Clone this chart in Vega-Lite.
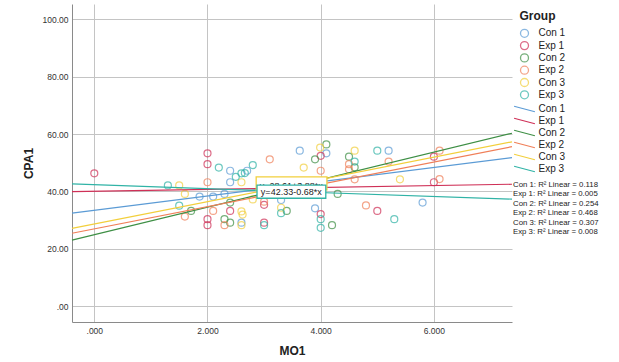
{
  "$schema": "https://vega.github.io/schema/vega-lite/v6.json",
  "width": 440,
  "height": 318,
  "autosize": {"type": "none"},
  "padding": {"left": 72, "top": 4, "right": 107, "bottom": 40},
  "background": "white",
  "config": {
    "view": {"stroke": null},
    "font": "Liberation Sans",
    "axis": {"labelFont": "Liberation Sans", "titleFont": "Liberation Sans"},
    "legend": {"labelFont": "Liberation Sans", "titleFont": "Liberation Sans"}
  },
  "datasets": {
    "points": [
      {"Group": "Con 1", "MO1": 2.4, "CPA1": 47.2},
      {"Group": "Con 1", "MO1": 2.7, "CPA1": 47.2},
      {"Group": "Con 1", "MO1": 3.63, "CPA1": 54.2},
      {"Group": "Con 1", "MO1": 2.4, "CPA1": 43.2},
      {"Group": "Con 1", "MO1": 1.86, "CPA1": 38.2},
      {"Group": "Con 1", "MO1": 2.1, "CPA1": 38.2},
      {"Group": "Con 1", "MO1": 2.3, "CPA1": 39.1},
      {"Group": "Con 1", "MO1": 2.6, "CPA1": 29.1},
      {"Group": "Con 1", "MO1": 3.3, "CPA1": 37.0},
      {"Group": "Con 1", "MO1": 4.1, "CPA1": 53.3},
      {"Group": "Con 1", "MO1": 5.2, "CPA1": 54.2},
      {"Group": "Con 1", "MO1": 3.9, "CPA1": 34.1},
      {"Group": "Con 1", "MO1": 5.8, "CPA1": 36.1},
      {"Group": "Exp 1", "MO1": 0.0, "CPA1": 46.3},
      {"Group": "Exp 1", "MO1": 2.0, "CPA1": 53.3},
      {"Group": "Exp 1", "MO1": 2.0, "CPA1": 49.5},
      {"Group": "Exp 1", "MO1": 2.4, "CPA1": 33.2},
      {"Group": "Exp 1", "MO1": 2.0, "CPA1": 30.3},
      {"Group": "Exp 1", "MO1": 2.0, "CPA1": 28.2},
      {"Group": "Exp 1", "MO1": 3.0, "CPA1": 35.3},
      {"Group": "Exp 1", "MO1": 3.0, "CPA1": 29.1},
      {"Group": "Exp 1", "MO1": 4.0, "CPA1": 52.4},
      {"Group": "Exp 1", "MO1": 4.0, "CPA1": 32.1},
      {"Group": "Exp 1", "MO1": 5.0, "CPA1": 33.2},
      {"Group": "Exp 1", "MO1": 6.0, "CPA1": 52.1},
      {"Group": "Exp 1", "MO1": 6.0, "CPA1": 43.2},
      {"Group": "Con 2", "MO1": 1.71, "CPA1": 33.2},
      {"Group": "Con 2", "MO1": 2.4, "CPA1": 36.1},
      {"Group": "Con 2", "MO1": 2.3, "CPA1": 30.3},
      {"Group": "Con 2", "MO1": 2.4, "CPA1": 29.1},
      {"Group": "Con 2", "MO1": 3.4, "CPA1": 33.2},
      {"Group": "Con 2", "MO1": 4.1, "CPA1": 56.4},
      {"Group": "Con 2", "MO1": 3.9, "CPA1": 51.2},
      {"Group": "Con 2", "MO1": 4.5, "CPA1": 52.1},
      {"Group": "Con 2", "MO1": 4.6, "CPA1": 48.4},
      {"Group": "Con 2", "MO1": 4.3, "CPA1": 39.1},
      {"Group": "Con 2", "MO1": 4.2, "CPA1": 28.2},
      {"Group": "Exp 2", "MO1": 3.1, "CPA1": 51.2},
      {"Group": "Exp 2", "MO1": 2.0, "CPA1": 43.2},
      {"Group": "Exp 2", "MO1": 1.6, "CPA1": 31.2},
      {"Group": "Exp 2", "MO1": 2.1, "CPA1": 33.2},
      {"Group": "Exp 2", "MO1": 3.0, "CPA1": 36.4},
      {"Group": "Exp 2", "MO1": 2.3, "CPA1": 28.2},
      {"Group": "Exp 2", "MO1": 4.0, "CPA1": 47.2},
      {"Group": "Exp 2", "MO1": 4.5, "CPA1": 49.5},
      {"Group": "Exp 2", "MO1": 4.5, "CPA1": 47.7},
      {"Group": "Exp 2", "MO1": 4.6, "CPA1": 44.2},
      {"Group": "Exp 2", "MO1": 5.2, "CPA1": 50.4},
      {"Group": "Exp 2", "MO1": 6.1, "CPA1": 54.2},
      {"Group": "Exp 2", "MO1": 6.1, "CPA1": 44.3},
      {"Group": "Exp 2", "MO1": 4.8, "CPA1": 35.1},
      {"Group": "Con 3", "MO1": 3.7, "CPA1": 48.3},
      {"Group": "Con 3", "MO1": 2.6, "CPA1": 43.2},
      {"Group": "Con 3", "MO1": 1.5, "CPA1": 42.1},
      {"Group": "Con 3", "MO1": 1.6, "CPA1": 39.1},
      {"Group": "Con 3", "MO1": 2.6, "CPA1": 33.0},
      {"Group": "Con 3", "MO1": 2.62, "CPA1": 31.9},
      {"Group": "Con 3", "MO1": 2.6, "CPA1": 28.2},
      {"Group": "Con 3", "MO1": 3.3, "CPA1": 34.3},
      {"Group": "Con 3", "MO1": 3.99, "CPA1": 55.3},
      {"Group": "Con 3", "MO1": 4.6, "CPA1": 54.2},
      {"Group": "Con 3", "MO1": 5.4, "CPA1": 44.2},
      {"Group": "Con 3", "MO1": 2.8, "CPA1": 37.2},
      {"Group": "Exp 3", "MO1": 2.2, "CPA1": 48.3},
      {"Group": "Exp 3", "MO1": 2.5, "CPA1": 45.1},
      {"Group": "Exp 3", "MO1": 2.6, "CPA1": 46.3},
      {"Group": "Exp 3", "MO1": 2.66, "CPA1": 46.4},
      {"Group": "Exp 3", "MO1": 2.8, "CPA1": 49.2},
      {"Group": "Exp 3", "MO1": 1.3, "CPA1": 42.1},
      {"Group": "Exp 3", "MO1": 1.5, "CPA1": 35.0},
      {"Group": "Exp 3", "MO1": 3.0, "CPA1": 28.2},
      {"Group": "Exp 3", "MO1": 3.3, "CPA1": 32.4},
      {"Group": "Exp 3", "MO1": 4.0, "CPA1": 30.3},
      {"Group": "Exp 3", "MO1": 4.0, "CPA1": 27.3},
      {"Group": "Exp 3", "MO1": 5.0, "CPA1": 54.2},
      {"Group": "Exp 3", "MO1": 4.6, "CPA1": 50.4},
      {"Group": "Exp 3", "MO1": 5.3, "CPA1": 30.3}
    ],
    "fits": [
      {"Fit": "Con 1", "MO1": -0.394, "CPA1": 32.4},
      {"Fit": "Con 1", "MO1": 7.38, "CPA1": 51.8},
      {"Fit": "Exp 1", "MO1": -0.394, "CPA1": 39.9},
      {"Fit": "Exp 1", "MO1": 7.38, "CPA1": 42.5},
      {"Fit": "Con 2", "MO1": -0.394, "CPA1": 23.0},
      {"Fit": "Con 2", "MO1": 7.38, "CPA1": 60.3},
      {"Fit": "Exp 2", "MO1": -0.394, "CPA1": 25.4},
      {"Fit": "Exp 2", "MO1": 7.38, "CPA1": 55.6},
      {"Fit": "Con 3", "MO1": -0.394, "CPA1": 27.1},
      {"Fit": "Con 3", "MO1": 7.38, "CPA1": 57.3},
      {"Fit": "Exp 3", "MO1": -0.394, "CPA1": 42.6},
      {"Fit": "Exp 3", "MO1": 7.38, "CPA1": 37.3}
    ],
    "boxes": [
      {"Group": "Con 3", "x1": 2.86, "x2": 4.11, "y1": 40.5, "y2": 45.1, "tx": 3.48, "ty": 42.0, "label": "y=28.61+3.88*x"},
      {"Group": "Exp 3", "x1": 2.875, "x2": 4.09, "y1": 37.6, "y2": 42.2, "tx": 3.48, "ty": 39.9, "label": "y=42.33-0.68*x"}
    ],
    "r2": [
      {"MO1": 7.38, "CPA1": 42.34, "label": "Con 1: R² Linear = 0.118"},
      {"MO1": 7.38, "CPA1": 38.99, "label": "Exp 1: R² Linear = 0.005"},
      {"MO1": 7.38, "CPA1": 35.71, "label": "Con 2: R² Linear = 0.254"},
      {"MO1": 7.38, "CPA1": 32.36, "label": "Exp 2: R² Linear = 0.468"},
      {"MO1": 7.38, "CPA1": 28.97, "label": "Con 3: R² Linear = 0.307"},
      {"MO1": 7.38, "CPA1": 25.72, "label": "Exp 3: R² Linear = 0.008"}
    ]
  },
  "layer": [
    {
      "data": {"name": "points"},
      "mark": {"type": "point", "shape": "circle", "filled": false, "size": 49, "strokeWidth": 1.2, "clip": true},
      "encoding": {
        "x": {
          "field": "MO1", "type": "quantitative",
          "scale": {"domain": [-0.394, 7.38], "nice": false, "zero": false},
          "axis": {
            "title": "MO1", "values": [0, 2, 4, 6],
            "labelExpr": "datum.value == 0 ? '.000' : format(datum.value, '.3f')",
            "labelFontSize": 8.5, "labelColor": "#333", "labelPadding": 4,
            "ticks": false, "domainColor": "#8a8a8a", "domainWidth": 1,
            "gridColor": "#c4c4c4", "gridWidth": 1,
            "titleFontSize": 12, "titleFontWeight": "bold", "titleColor": "#222", "titlePadding": 11
          }
        },
        "y": {
          "field": "CPA1", "type": "quantitative",
          "scale": {"domain": [-5.58, 105.4], "nice": false, "zero": false},
          "axis": {
            "title": "CPA1", "values": [0, 20, 40, 60, 80, 100],
            "labelExpr": "datum.value == 0 ? '.00' : format(datum.value, '.2f')",
            "labelFontSize": 8.5, "labelColor": "#333", "labelPadding": 4,
            "ticks": false, "domainColor": "#8a8a8a", "domainWidth": 1,
            "gridColor": "#c4c4c4", "gridWidth": 1,
            "titleFontSize": 12, "titleFontWeight": "bold", "titleColor": "#222", "titlePadding": 7
          }
        },
        "stroke": {
          "field": "Group", "type": "nominal",
          "scale": {
            "domain": ["Con 1", "Exp 1", "Con 2", "Exp 2", "Con 3", "Exp 3"],
            "range": ["#5b9bd5", "#cf3057", "#3e8f45", "#f07f58", "#f2cf3c", "#30b3a6"]
          },
          "legend": {
            "title": "Group", "orient": "none", "legendX": 447.5, "legendY": 7.3,
            "padding": 0, "titleFontSize": 12, "titleFontWeight": "bold", "titleColor": "#222",
            "titlePadding": 5, "labelFontSize": 10, "labelColor": "#222", "labelOffset": 9,
            "rowPadding": -1.7, "symbolType": "circle", "symbolSize": 64, "symbolStrokeWidth": 1.3,
            "symbolFillColor": "transparent"
          }
        }
      }
    },
    {
      "data": {"name": "fits"},
      "mark": {"type": "line", "strokeWidth": 1.2},
      "encoding": {
        "x": {"field": "MO1", "type": "quantitative", "title": "MO1"},
        "y": {"field": "CPA1", "type": "quantitative", "title": "CPA1"},
        "order": {"field": "MO1"},
        "color": {
          "field": "Fit", "type": "nominal",
          "sort": ["Con 1", "Exp 1", "Con 2", "Exp 2", "Con 3", "Exp 3"],
          "scale": {
            "range": ["#5b9bd5", "#cf3057", "#3e8f45", "#f07f58", "#f2cf3c", "#30b3a6"]
          },
          "legend": {
            "title": null, "orient": "none", "legendX": 447.5, "legendY": 100,
            "padding": 0, "labelFontSize": 10, "labelColor": "#222", "labelOffset": 9,
            "rowPadding": 2.0, "symbolType": "M-2.6,-0.7L2.6,0.7", "symbolSize": 64, "symbolStrokeWidth": 1.1
          }
        }
      }
    },
    {
      "data": {"name": "boxes"},
      "transform": [{"filter": "datum.Group == 'Con 3'"}],
      "mark": {"type": "rect", "fill": "white", "stroke": "#f2cf3c", "strokeWidth": 1.3},
      "encoding": {
        "x": {"field": "x1", "type": "quantitative", "title": "MO1"},
        "x2": {"field": "x2"},
        "y": {"field": "y1", "type": "quantitative", "title": "CPA1"},
        "y2": {"field": "y2"}
      }
    },
    {
      "data": {"name": "boxes"},
      "transform": [{"filter": "datum.Group == 'Con 3'"}],
      "mark": {"type": "text", "fontSize": 9, "color": "#222", "align": "center", "baseline": "middle"},
      "encoding": {
        "x": {"field": "tx", "type": "quantitative", "title": "MO1"},
        "y": {"field": "ty", "type": "quantitative", "title": "CPA1"},
        "text": {"field": "label"}
      }
    },
    {
      "data": {"name": "boxes"},
      "transform": [{"filter": "datum.Group == 'Exp 3'"}],
      "mark": {"type": "rect", "fill": "white", "stroke": "#30b3a6", "strokeWidth": 1.3},
      "encoding": {
        "x": {"field": "x1", "type": "quantitative", "title": "MO1"},
        "x2": {"field": "x2"},
        "y": {"field": "y1", "type": "quantitative", "title": "CPA1"},
        "y2": {"field": "y2"}
      }
    },
    {
      "data": {"name": "boxes"},
      "transform": [{"filter": "datum.Group == 'Exp 3'"}],
      "mark": {"type": "text", "fontSize": 9, "color": "#222", "align": "center", "baseline": "middle"},
      "encoding": {
        "x": {"field": "tx", "type": "quantitative", "title": "MO1"},
        "y": {"field": "ty", "type": "quantitative", "title": "CPA1"},
        "text": {"field": "label"}
      }
    },
    {
      "data": {"name": "r2"},
      "mark": {"type": "text", "fontSize": 7.8, "color": "#222", "align": "left", "baseline": "middle", "dx": 1},
      "encoding": {
        "x": {"field": "MO1", "type": "quantitative", "title": "MO1"},
        "y": {"field": "CPA1", "type": "quantitative", "title": "CPA1"},
        "text": {"field": "label"}
      }
    }
  ]
}
